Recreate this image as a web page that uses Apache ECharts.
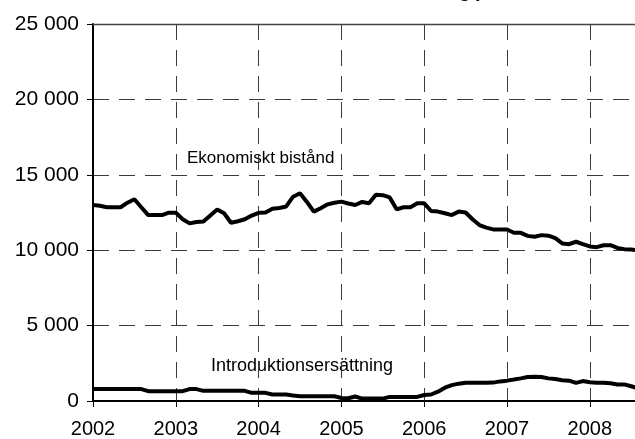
<!DOCTYPE html>
<html>
<head>
<meta charset="utf-8">
<script src="https://cdn.jsdelivr.net/npm/echarts@6/dist/echarts.min.js"></script>
<style>
html,body{margin:0;padding:0;background:#fff;}
#chart{width:635px;height:439px;}
</style>
</head>
<body>
<div id="chart"></div>
<script>
// Months Jan 2002 .. Jan 2009 (categories)
var months = [];
for (var yr = 2002; yr <= 2009; yr++) {
  for (var m = 1; m <= 12; m++) {
    if (yr === 2009 && m > 1) break;
    months.push(yr + '-' + (m < 10 ? '0' + m : m));
  }
}

// Ekonomiskt bistånd (monthly, Jan 2002 - Aug 2008)
var ekonomisktBistand = [
  13000, 12950, 12850, 12850, 12850, 13150, 13380, 12850, 12330, 12330, 12330, 12490,
  12490, 12050, 11780, 11870, 11900, 12300, 12700, 12450, 11820, 11920, 12050, 12300,
  12480, 12500, 12750, 12800, 12900, 13550, 13780, 13200, 12560, 12780, 13040, 13150,
  13220, 13100, 13000, 13200, 13110, 13670, 13650, 13500, 12710, 12850, 12850, 13110,
  13110, 12600, 12560, 12450, 12330, 12560, 12500, 12050, 11670, 11500, 11380, 11380,
  11370, 11160, 11150, 10950, 10890, 11000, 10960, 10800, 10450, 10400, 10560, 10400,
  10250, 10200, 10330, 10330, 10150, 10070, 10040, 10000
];

// Introduktionsersättning (monthly, Jan 2002 - Aug 2008)
var introduktionsersattning = [
  790, 790, 790, 790, 790, 790, 790, 790, 650, 650, 650, 650,
  650, 650, 790, 790, 675, 675, 675, 675, 675, 675, 675, 540,
  540, 540, 430, 430, 430, 360, 315, 315, 315, 315, 315, 315,
  200, 180, 300, 160, 160, 160, 160, 270, 270, 270, 270, 270,
  400, 430, 620, 880, 1050, 1150, 1210, 1210, 1210, 1210, 1220, 1300,
  1350, 1420, 1500, 1590, 1600, 1590, 1500, 1460, 1380, 1350, 1200, 1320,
  1250, 1210, 1210, 1180, 1100, 1100, 980, 840
];

var yTicks = [0, 5000, 10000, 15000, 20000, 25000];

function isJan(v) { return String(v).slice(5) === '01'; }
function fmtThousands(v) { return String(v).replace(/\B(?=(\d{3})+(?!\d))/g, ' '); }

var chart = echarts.init(document.getElementById('chart'), null, {renderer: 'canvas'});
var font = 'Arial, "Liberation Sans", Helvetica, sans-serif';

chart.setOption({
  animation: false,
  backgroundColor: '#ffffff',
  grid: {left: 93, top: 24, height: 377, width: 579.6, containLabel: false, outerBoundsMode: 'none'},
  xAxis: [{
    type: 'category',
    data: months,
    boundaryGap: false,
    axisLine: {show: true, lineStyle: {color: '#000', width: 2}},
    axisTick: {show: true, length: 6, interval: function (i, v) { return isJan(v); }, lineStyle: {color: '#000', width: 1}},
    axisLabel: {
      interval: function (i, v) { return isJan(v) && v.slice(0, 4) !== '2009'; },
      formatter: function (v) { return v.slice(0, 4); },
      margin: 18, color: '#000', fontSize: 20, fontFamily: font
    },
    splitLine: {
      show: true,
      interval: function (i, v) { return isJan(v) && i > 0; },
      lineStyle: {color: '#3a3a3a', width: 1, type: [16, 10]}
    }
  }, {
    type: 'category',
    data: months,
    boundaryGap: false,
    position: 'top',
    axisLine: {show: true, onZero: false, lineStyle: {color: '#444', width: 1.3}},
    axisTick: {show: false},
    axisLabel: {show: false},
    splitLine: {show: false}
  }],
  yAxis: {
    type: 'value',
    min: yTicks[0],
    max: yTicks[yTicks.length - 1],
    interval: 5000,
    axisLine: {show: true, lineStyle: {color: '#000', width: 2}},
    axisTick: {show: true, length: 6, lineStyle: {color: '#000', width: 1}},
    axisLabel: {
      margin: 14, color: '#000', fontSize: 21, fontFamily: font,
      formatter: function (v) { return fmtThousands(v); }
    },
    splitLine: {show: true, lineStyle: {color: '#3a3a3a', width: 1, type: [16, 10]}}
  },
  series: [{
    name: 'Ekonomiskt bistånd',
    type: 'line',
    data: ekonomisktBistand,
    showSymbol: false,
    symbol: 'none',
    lineStyle: {color: '#000', width: 4},
    z: 5
  }, {
    name: 'Introduktionsersättning',
    type: 'line',
    data: introduktionsersattning,
    showSymbol: false,
    symbol: 'none',
    lineStyle: {color: '#000', width: 4},
    z: 5
  }],
  graphic: [{
    type: 'text', left: 187, top: 150,
    style: {text: 'Ekonomiskt bistånd', fontSize: 17, fontFamily: font, fill: '#000'}
  }, {
    type: 'text', left: 211, top: 357,
    style: {text: 'Introduktionsersättning', fontSize: 18, fontFamily: font, fill: '#000'}
  }, {
    type: 'text', x: 471, y: -9,
    style: {text: 'Antal hushåll med ekonomiskt bistånd och introduktionsersättning', fontSize: 20, fontWeight: 'bold', fontFamily: font, fill: '#000', align: 'right', verticalAlign: 'middle'}
  }, {
    type: 'text', x: 475, y: -9,
    style: {text: 'per månad', fontSize: 20, fontWeight: 'bold', fontFamily: font, fill: '#000', align: 'left', verticalAlign: 'middle'}
  }]
});
</script>
</body>
</html>
